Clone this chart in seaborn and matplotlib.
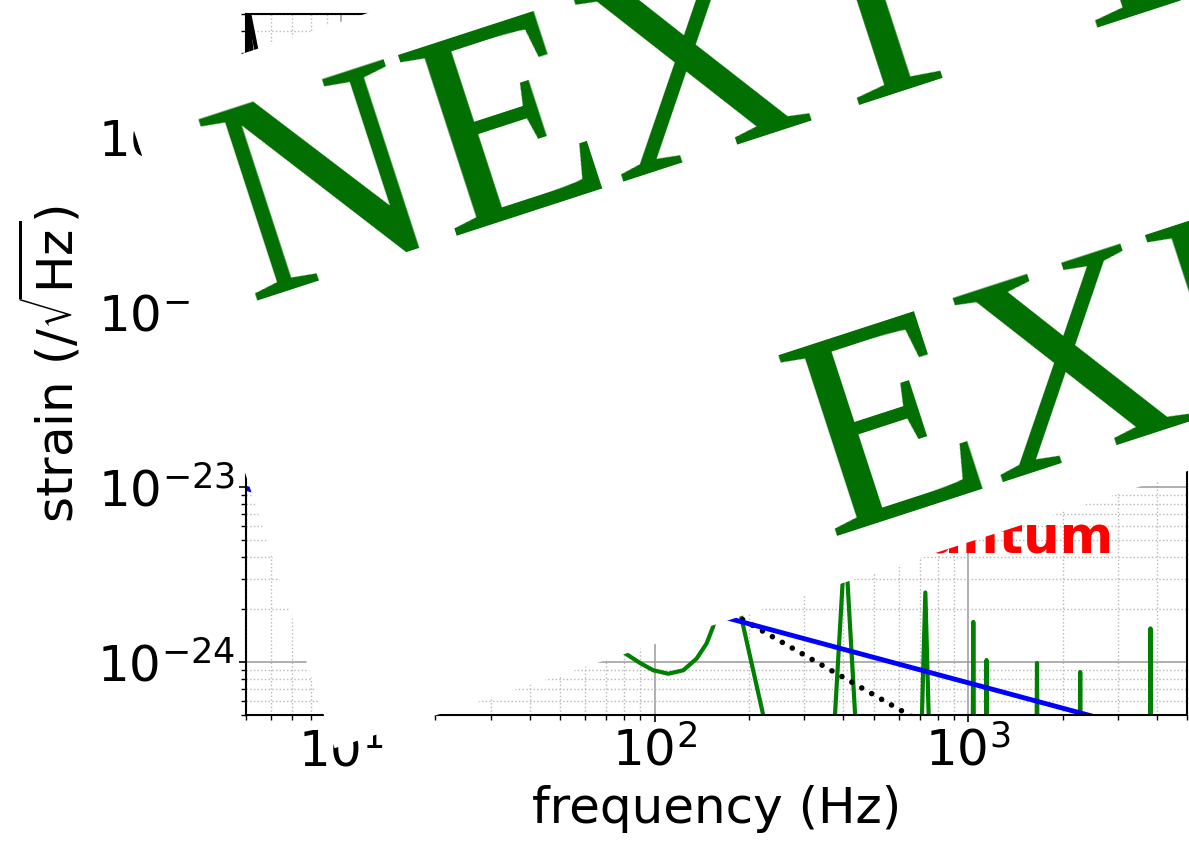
import numpy as np
import pandas as pd
import matplotlib
matplotlib.use("Agg")
import matplotlib.pyplot as plt
from matplotlib.patches import Polygon
from matplotlib.ticker import LogLocator
import seaborn as sns

# ---- data -------------------------------------------------------------
freq_lim = (5, 5000)
strain_lim = (5e-25, 5e-21)

# seismic, Newtonian and total at low frequency (black, solid)
seis_f = [5.0, 5.4, 6.0, 7.0, 8.0, 10.0, 12.0, 14.0, 20.0]
seis_h = [6e-21, 3e-21, 1.2e-21, 2.6e-22, 6e-23, 6e-24, 1e-24, 2.2e-25, 6e-27]
newt_f = [5.0, 5.05, 5.3, 6.0, 7.0, 8.0, 10.0, 12.0]
newt_h = [4.6e-21, 3.0e-21, 5e-22, 1e-22, 1.5e-23, 3e-24, 3e-25, 3e-26]
total_f = [5.0, 5.2, 5.6, 6.5, 8.0, 10.0, 12.0]
total_h = [5.4e-21, 3.0e-21, 9e-22, 1.5e-22, 1.5e-23, 1.5e-24, 1.5e-25]

# suspension thermal with resonances (green)
therm_f = [5, 10, 20, 40, 60, 70, 81.5, 89.9, 99.1, 110.6, 123.5, 136.2, 146.5,
           153.8, 165, 175, 189.6, 222, 240, 300, 360, 376, 405, 436, 450, 600,
           700, 712, 730, 748, 760, 1000, 1030, 1038, 1046, 1136, 1144, 1152,
           1645, 1657, 1669, 2260, 2275, 2290, 3790, 3811, 3832, 5000]
therm_h = [2e-21, 2e-22, 2.5e-23, 4e-24, 1.8e-24, 1.35e-24, 1.11e-24, 0.99e-24,
           0.90e-24, 0.86e-24, 0.90e-24, 1.05e-24, 1.28e-24, 1.6e-24, 3e-24,
           4e-24, 1.76e-24, 5e-25, 2e-25, 1e-25, 1.2e-25, 5e-25, 5e-24, 5e-25,
           1.2e-25, 1e-25, 1.2e-25, 5e-25, 2.5e-24, 5e-25, 1.2e-25, 1e-25,
           1e-25, 1.7e-24, 1e-25, 1e-25, 1.03e-24, 1e-25, 1e-25, 0.99e-24,
           1e-25, 1e-25, 0.88e-24, 1e-25, 1e-25, 1.56e-24, 1e-25, 1e-25]

# quantum (blue)
quant_f = [5, 50, 500, 5000]
quant_h = [9.8e-24, 3.23e-24, 1.066e-24, 3.52e-25]

# coating thermal (black, dotted)
coat_f = [20, 100, 1000]
coat_h = [1.8e-23, 3.4e-24, 3.2e-25]

# ---- style -------------------------------------------------------------
sns.set_style("ticks")
plt.rcParams["font.family"] = ["DejaVu Sans"]
plt.rcParams["mathtext.fontset"] = "dejavusans"
plt.rcParams["text.color"] = "black"
plt.rcParams["axes.labelcolor"] = "black"

W, H, DPI = 1189, 841, 100
fig = plt.figure(figsize=(W / DPI, H / DPI), dpi=DPI)
ax = fig.add_axes([0.2073, 0.1498, 0.7914, 0.8336])
ax.set_xscale("log")
ax.set_yscale("log")


def curve(f, h, **kw):
    sns.lineplot(data=pd.DataFrame({"f": f, "h": h}), x="f", y="h", ax=ax,
                 sort=False, estimator=None, **kw)
    return ax.lines[-1]


curve(total_f, total_h, color="black", lw=3)
curve(newt_f, newt_h, color="black", lw=3)
curve(seis_f, seis_h, color="black", lw=3)
curve(therm_f, therm_h, color="green", lw=3)
coat = curve(coat_f, coat_h, color="black", lw=4)
coat.set_linestyle((0, (0.01, 2.05)))
coat.set_dash_capstyle("round")
curve(quant_f, quant_h, color="blue", lw=3.5)

ax.text(436, 4.2e-24, "quantum", color="red", fontsize=37,
        fontweight="bold", va="baseline")

ax.set_xlim(*freq_lim)
ax.set_ylim(*strain_lim)
ax.xaxis.set_major_locator(LogLocator(base=10, numticks=20))
ax.yaxis.set_major_locator(LogLocator(base=10, numticks=20))
ax.xaxis.set_minor_locator(LogLocator(base=10, subs=np.arange(2, 10), numticks=50))
ax.yaxis.set_minor_locator(LogLocator(base=10, subs=np.arange(2, 10), numticks=50))

ax.grid(True, which="major", color="#9a9a9a", ls="-", lw=1.1)
ax.grid(True, which="minor", color="#b8b8b8", ls=":", lw=1.0)
ax.tick_params(which="major", direction="out", length=5, width=1.2,
               labelsize=36, colors="black")
ax.tick_params(which="minor", direction="out", length=3.5, width=1.0,
               colors="black")
for sp in ax.spines.values():
    sp.set_color("black")
    sp.set_linewidth(1.5)

ax.set_xlabel("frequency (Hz)", fontsize=36, labelpad=6, color="black")
ax.set_ylabel(r"strain (/$\sqrt{\mathrm{Hz}}$)", fontsize=36, labelpad=10,
              color="black")

# ---- rotated banner ------------------------------------------------------
ANGLE = 18.0


def banner_point(u, n):
    a = np.deg2rad(ANGLE)
    x = u * np.cos(a) + n * np.sin(a)
    y = -u * np.sin(a) + n * np.cos(a)
    return x / W, 1 - y / H


band = Polygon([banner_point(87, 126), banner_point(87, 815),
                banner_point(1900, 815), banner_point(1900, 126)],
               closed=True, transform=fig.transFigure, facecolor="white",
               edgecolor="none", zorder=10)
fig.add_artist(band)

stamp = dict(color="#006e00", fontsize=209, family=["Liberation Serif"],
             rotation=ANGLE, rotation_mode="anchor", ha="left",
             va="baseline", zorder=11)
fig.text(*banner_point(143.5, 365.5), "NEXT YEAR", **stamp)
fig.text(*banner_point(622, 765.7), "EXPERIMENT", **stamp)

fig.savefig("out.png", dpi=DPI)
